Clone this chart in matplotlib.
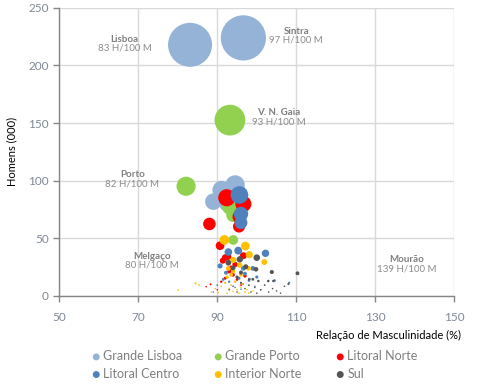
import matplotlib
matplotlib.use("Agg")
import matplotlib.pyplot as plt
import numpy as np

plt.rcParams['font.family'] = ['Lato', 'DejaVu Sans']

series_names = ["Grande Lisboa", "Grande Porto", "Litoral Norte",
                "Litoral Centro", "Interior Norte", "Sul"]
series_colors = ["#95B3D7", "#92D050", "#FF0000", "#4F81BD", "#FFC000", "#555555"]

# x = Relação de Masculinidade (%), y = Homens (000)
gl_x = [96.6, 83.1, 94.5, 91.1, 89.0, 92.5]
gl_y = [224, 218, 96.1, 91.7, 81.6, 80]

gp_x = [93.2, 82.1, 93.2, 94.05, 94.05]
gp_y = [152.5, 95, 77, 70, 48.3]

ln_x = [92.4, 96.6, 95.6, 88.0, 95.5, 90.7, 96.6, 92.7, 91.4, 94.5, 93.5, 92.0,
        93.0, 94.0, 97.0, 92.0, 95.0, 91.0, 88.3, 96.0, 87.2, 90.0]
ln_y = [85, 79.6, 68.5, 62.2, 60, 43.3, 34.6, 33.8, 30.3, 27, 24, 33,
        21, 18, 17, 15, 14, 12, 9.7, 9, 7.7, 5]

lc_x = [95.6, 96.0, 96.0, 95.3, 92.8, 102.2, 90.7, 96.6, 99.0, 92.2, 97.0, 100.0,
        95.5, 91.5, 104.5, 98.0, 93.0, 108.2, 96.5, 90.0, 99.5, 94.5, 96.0, 101.0, 89.0]
lc_y = [87.4, 70.9, 63.3, 39.0, 37.8, 36.7, 25.7, 23.6, 23.6, 19.8, 19, 16,
        15, 14, 13, 13, 12, 11.1, 10, 9, 8, 7, 5.5, 5, 3]

in_x = [91.8, 97.1, 98.1, 94.05, 101.9, 95.7, 92.8, 97.9, 94.0, 93.5, 96.0, 92.5,
        94.5, 92.0, 84.5, 96.5, 85.4, 93.5, 91.0, 96.0, 89.5, 93.0, 95.0, 97.5,
        80.1, 99.0, 94.0, 88.5, 97.0, 90.2, 92.5, 95.5, 98.0]
in_y = [48.3, 43.0, 35.5, 30.9, 29.1, 26.5, 23.6, 23.6, 21, 18, 18, 16,
        12, 11, 10.6, 10, 9.1, 9, 8, 7, 6, 6, 5, 5,
        4.8, 4, 3.5, 3, 3, 2.5, 2, 2, 2]

sul_x = [100.0, 95.7, 92.8, 97.2, 99.8, 94.0, 103.8, 110.3, 96.0, 95.0, 98.1, 99.0,
         100.4, 102.9, 104.2, 96.0, 108.0, 102.0, 98.0, 94.0, 107.0, 99.5, 104.0,
         97.0, 101.0, 93.0, 105.0, 95.0, 98.5, 103.0, 100.0, 106.0]
sul_y = [32.9, 31.5, 28.5, 25.0, 22.8, 24, 20.4, 19.3, 20, 16, 14.1, 14.1,
         12.6, 12.6, 12.6, 11, 10, 9, 9, 8, 8, 7, 6,
         6, 5, 5, 4, 3, 3, 3, 2, 2]

xs = [gl_x, gp_x, ln_x, lc_x, in_x, sul_x]
ys = [gl_y, gp_y, ln_y, lc_y, in_y, sul_y]

label_names = ["Lisboa", "Sintra", "V. N. Gaia", "Porto", "Melgaço", "Mourão"]
label_ratios = ["83 H/100 M", "97 H/100 M", "93 H/100 M", "82 H/100 M", "80 H/100 M", "139 H/100 M"]
label_x = [66.5, 110, 105.5, 68.5, 73.5, 138]
label_y = [219, 226, 155, 101, 30, 27]

x_ticks = [50, 70, 90, 110, 130, 150]
y_ticks = [0, 50, 100, 150, 200, 250]

W, H, DPI = 503, 386, 100
fig = plt.figure(figsize=(W / DPI, H / DPI), dpi=DPI)
ax = fig.add_axes([59.3 / W, 1 - 295.5 / H, (454.3 - 59.3) / W, (295.5 - 8) / H])

px_per_unit_y = 44.0 / 218.0   # bubble diameter (px) per thousand men
handles = []
for name, col, x, y in zip(series_names, series_colors, xs, ys):
    y = np.asarray(y, dtype=float)
    d_px = np.maximum(y * px_per_unit_y, 1.6)
    s = (d_px * 72.0 / DPI) ** 2
    order = np.argsort(-s)
    h = ax.scatter(np.asarray(x)[order], y[order], s=s[order], color=col,
                   edgecolors='none', zorder=3, label=name)
    handles.append(h)

ax.set_xlim(50, 150)
ax.set_ylim(0, 250)
ax.set_xticks(x_ticks)
ax.set_yticks(y_ticks)
ax.grid(True, color="#D9D9D9", linewidth=1.0, zorder=0)
ax.set_axisbelow(True)
for sp in ["top", "right"]:
    ax.spines[sp].set_visible(False)
for sp in ["left", "bottom"]:
    ax.spines[sp].set_color("#868686")
    ax.spines[sp].set_linewidth(1.0)
ax.tick_params(axis='both', colors="#868686", labelcolor="#7F8896", labelsize=8.5,
               length=4, width=1.0, direction='out')
ax.tick_params(axis='x', pad=8)

ax.set_ylabel("Homens (000)", fontsize=8, color="black", labelpad=8)
fig.text(388 / W, 1 - 335 / H, "Relação de Masculinidade (%)", fontsize=8,
         color="black", ha='center', va='center')

for n, r, lx, ly in zip(label_names, label_ratios, label_x, label_y):
    ax.text(lx, ly, n, fontsize=7, fontweight='bold', color="#7F7F7F",
            ha='center', va='bottom', zorder=4)
    ax.text(lx, ly, r, fontsize=7, color="#8C8C8C", ha='center', va='top', zorder=4)

# legend: three columns placed at fixed positions, row-wise order
col_left = [90, 212, 334]
for c in range(3):
    hs = [handles[c], handles[c + 3]]
    leg = fig.legend(hs, [series_names[c], series_names[c + 3]],
                     loc='center left', bbox_to_anchor=(col_left[c] / W, 1 - 365 / H),
                     frameon=False, fontsize=9, labelcolor="#7F7F7F",
                     handletextpad=0.05, labelspacing=0.45, handlelength=1.0,
                     borderpad=0, borderaxespad=0)
    for lh in leg.legend_handles:
        lh.set_sizes([25])

fig.savefig("out.png", dpi=DPI)
